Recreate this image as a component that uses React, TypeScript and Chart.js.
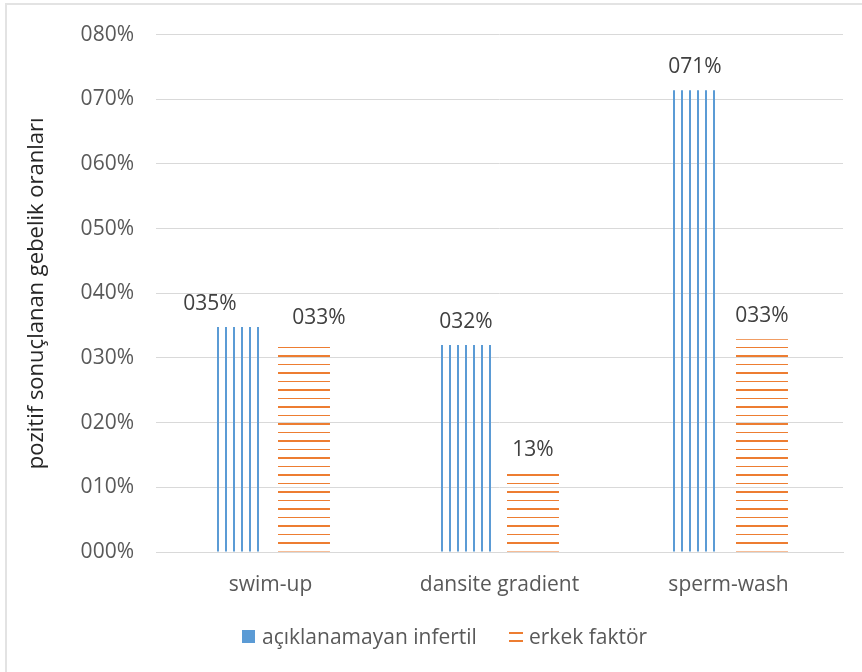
import React, { useEffect, useRef } from "react";
import { Chart, registerables } from "chart.js";

Chart.register(...registerables);

const categories = ["swim-up", "dansite gradient", "sperm-wash"];
const seriesNames = ["açıklanamayan infertil", "erkek faktör"];
const unexplainedValues = [0.348, 0.32, 0.714];
const maleFactorValues = [0.326, 0.122, 0.329];
const unexplainedLabels = ["035%", "032%", "071%"];
const maleFactorLabels = ["033%", "13%", "033%"];
const yTickLabels = ["000%", "010%", "020%", "030%", "040%", "050%", "060%", "070%", "080%"];
const yTitle = "pozitif sonuçlanan gebelik oranları";

const BLUE = "#5b9bd5";
const ORANGE = "#ed7d31";
const FONT = "'Open Sans', Lato, sans-serif";
const FS = 21;

function makeBluePattern(ctx: CanvasRenderingContext2D) {
  const c = document.createElement("canvas");
  c.width = 8;
  c.height = 8;
  const g = c.getContext("2d")!;
  g.fillStyle = BLUE;
  g.fillRect(1, 0, 2, 8);
  return ctx.createPattern(c, "repeat")!;
}

function makeOrangePattern(ctx: CanvasRenderingContext2D) {
  const c = document.createElement("canvas");
  c.width = 8;
  c.height = 17;
  const g = c.getContext("2d")!;
  g.fillStyle = ORANGE;
  g.fillRect(0, 15, 8, 2);
  g.fillRect(0, 7, 8, 1);
  return ctx.createPattern(c, "repeat")!;
}

// small label nudges seen in the reference (swim-up labels were moved sideways)
const labelShiftX = [
  [-27, 0, 0],
  [15, 0, 0],
];

const labelsPlugin = {
  id: "barLabels",
  afterDatasetsDraw(chart: any) {
    const ctx = chart.ctx as CanvasRenderingContext2D;
    const allLabels = [unexplainedLabels, maleFactorLabels];
    ctx.save();
    ctx.font = `${FS}px ${FONT}`;
    ctx.fillStyle = "#404040";
    ctx.textAlign = "center";
    ctx.textBaseline = "alphabetic";
    chart.data.datasets.forEach((_ds: any, di: number) => {
      const meta = chart.getDatasetMeta(di);
      meta.data.forEach((bar: any, i: number) => {
        ctx.fillText(allLabels[di][i], bar.x + labelShiftX[di][i], bar.y - 17);
      });
    });
    ctx.restore();
  },
};

const legendPlugin = {
  id: "customLegend",
  afterDraw(chart: any) {
    const ctx = chart.ctx as CanvasRenderingContext2D;
    ctx.save();
    ctx.font = `${FS}px ${FONT}`;
    ctx.textBaseline = "alphabetic";
    ctx.textAlign = "left";
    const baseline = 644;
    const x1 = 242;
    ctx.fillStyle = BLUE;
    ctx.fillRect(x1, 630, 13, 13);
    ctx.fillStyle = "#595959";
    ctx.fillText(seriesNames[0], x1 + 20, baseline);
    const x2 = 509;
    ctx.fillStyle = ORANGE;
    ctx.fillRect(x2, 632, 14, 2);
    ctx.fillRect(x2, 640, 14, 2);
    ctx.fillStyle = "#595959";
    ctx.fillText(seriesNames[1], x2 + 20, baseline);
    ctx.restore();
  },
};

export default function App() {
  const canvasRef = useRef<HTMLCanvasElement | null>(null);

  useEffect(() => {
    const canvas = canvasRef.current!;
    const ctx = canvas.getContext("2d")!;
    const chart = new Chart(ctx, {
      type: "bar",
      data: {
        labels: categories,
        datasets: [
          {
            label: seriesNames[0],
            data: unexplainedValues,
            backgroundColor: makeBluePattern(ctx),
            borderWidth: 0,
            categoryPercentage: 0.585,
            barPercentage: 0.776,
          },
          {
            label: seriesNames[1],
            data: maleFactorValues,
            backgroundColor: makeOrangePattern(ctx),
            borderWidth: 0,
            categoryPercentage: 0.585,
            barPercentage: 0.776,
          },
        ],
      },
      options: {
        responsive: false,
        animation: false,
        devicePixelRatio: 1,
        layout: { padding: { left: 0, right: 19, top: 32, bottom: 0 } },
        plugins: {
          legend: { display: false },
          tooltip: { enabled: false },
        },
        scales: {
          x: {
            grid: { display: false, drawTicks: false },
            border: { display: true, color: "#d9d9d9", width: 1 },
            ticks: {
              color: "#595959",
              font: { family: FONT, size: FS },
              padding: 20,
              maxRotation: 0,
              autoSkip: false,
            },
            afterFit(scale: any) {
              scale.height = 120;
            },
          },
          y: {
            min: 0,
            max: 0.8,
            grid: { color: "#d9d9d9", lineWidth: 1, drawTicks: false },
            border: { display: false },
            ticks: {
              stepSize: 0.1,
              color: "#595959",
              font: { family: FONT, size: FS },
              padding: 22,
              callback: (_v: any, i: number) => yTickLabels[i],
            },
            title: {
              display: true,
              text: yTitle,
              color: "#262626",
              font: { family: FONT, size: 22, weight: "normal" },
              padding: { top: 24, bottom: 0 },
            },
            afterFit(scale: any) {
              scale.width = 156;
            },
          },
        },
      },
      plugins: [labelsPlugin, legendPlugin],
    } as any);
    return () => chart.destroy();
  }, []);

  return (
    <div
      style={{
        position: "fixed",
        left: 0,
        top: 0,
        width: 862,
        height: 672,
        background: "#ffffff",
        overflow: "hidden",
      }}
    >
      <div
        style={{
          position: "absolute",
          left: 5,
          top: 3,
          width: 900,
          height: 700,
          borderLeft: "2px solid #e3e3e3",
          borderTop: "2px solid #e3e3e3",
        }}
      />
      <canvas
        ref={canvasRef}
        width={862}
        height={672}
        style={{ position: "absolute", left: 0, top: 0, width: 862, height: 672 }}
      />
    </div>
  );
}
